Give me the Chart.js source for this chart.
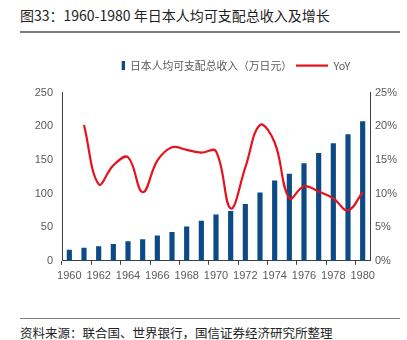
<!DOCTYPE html>
<html>
<head>
<meta charset="utf-8">
<script src="https://cdn.jsdelivr.net/npm/chart.js@4/dist/chart.umd.min.js"></script>
<style>
  body { margin: 0; background: #fff; width: 407px; height: 340px; position: relative; overflow: hidden; }
  #title { position: absolute; left: 20px; top: 5px; font: 14px "Noto Sans CJK SC", sans-serif; color: #222; white-space: nowrap; }
  #titleLine { position: absolute; left: 20px; top: 31px; width: 380px; height: 2px; background: #7f7f7f; }
  #footLine { position: absolute; left: 20px; top: 318px; width: 380px; height: 1px; background: #7f7f7f; }
  #foot { position: absolute; left: 20px; top: 323px; font: 12.5px "Noto Sans CJK SC", sans-serif; color: #222; white-space: nowrap; }
  #wrap { position: absolute; left: 0; top: 47px; width: 407px; height: 241px; }
</style>
</head>
<body>
<div id="title">图33：1960-1980 年日本人均可支配总收入及增长</div>
<div id="titleLine"></div>
<div id="wrap"><canvas id="chart"></canvas></div>
<div id="footLine"></div>
<div id="foot">资料来源：联合国、世界银行，国信证券经济研究所整理</div>
<script>
const years = ['1960', '1961', '1962', '1963', '1964', '1965', '1966', '1967', '1968', '1969', '1970',
    '1971', '1972', '1973', '1974', '1975', '1976', '1977', '1978', '1979', '1980'];
// 日本人均可支配总收入（万日元）
const income = [16, 19, 21, 24.5, 28.5, 31.5, 37, 42.5, 50.5, 59, 68.5,
    73.5, 84, 101, 119, 129, 144.5, 160, 174.5, 188, 207];
// YoY (%)
const yoy = [null, 20.2, 11.4, 14.2, 15.4, 10.2, 14.9, 16.9, 16.5, 16.1, 16.3,
    7.8, 13.9, 20.2, 17.6, 9.3, 11.1, 10.3, 9.3, 7.5, 10.2];
const leftTicks = [0, 50, 100, 150, 200, 250];
const rightTicks = [0, 5, 10, 15, 20, 25];

const blue = '#0b4a84';
const red = '#e5131d';
const axisColor = '#404040';
const tickColor = '#595959';

// legend symbols (same canvas width so the text gaps match the original)
const iconW = 32;
const barIcon = document.createElement('canvas');
barIcon.width = iconW; barIcon.height = 9;
let c = barIcon.getContext('2d');
c.fillStyle = blue; c.fillRect(iconW - 3, 0, 3, 9);

const lineIcon = document.createElement('canvas');
lineIcon.width = iconW; lineIcon.height = 3;
c = lineIcon.getContext('2d');
c.fillStyle = red; c.fillRect(0, 0.5, iconW, 2.2);

// extra space under the legend, and move it sideways like the original
const legendTweak = {
    id: 'legendTweak',
    beforeInit(chart) {
        const fit = chart.legend.fit;
        chart.legend.fit = function () {
            fit.bind(chart.legend)();
            this.height += 12;
        };
    },
    afterLayout(chart) {
        chart.legend.left += 2;
        chart.legend.right += 2;
    }
};

const ctx = document.getElementById('chart').getContext('2d');
new Chart(ctx, {
    data: {
        labels: years,
        datasets: [
            {
                type: 'line',
                label: 'YoY',
                data: yoy,
                yAxisID: 'y1',
                borderColor: red,
                backgroundColor: red,
                borderWidth: 2.2,
                tension: 0.4,
                pointRadius: 0,
                pointStyle: lineIcon,
                order: 0
            },
            {
                type: 'bar',
                label: '日本人均可支配总收入（万日元）',
                data: income,
                yAxisID: 'y',
                backgroundColor: blue,
                barThickness: 4.5,
                pointStyle: barIcon,
                order: 1
            }
        ]
    },
    options: {
        responsive: true,
        maintainAspectRatio: false,
        animation: false,
        layout: { padding: { left: 32, right: 0, top: 9, bottom: 0 } },
        plugins: {
            legend: {
                reverse: true,
                labels: {
                    usePointStyle: true,
                    pointStyleWidth: iconW,
                    boxHeight: 9,
                    padding: 4,
                    color: tickColor,
                    font: { family: '"Noto Sans CJK SC", sans-serif', size: 10.8 }
                }
            },
            tooltip: { enabled: false }
        },
        scales: {
            x: {
                offset: true,
                grid: {
                    offset: true,
                    drawOnChartArea: false,
                    tickLength: 4,
                    color: (g) => (g.index % 2 === 0 ? axisColor : 'rgba(0,0,0,0)')
                },
                border: { color: axisColor, width: 1 },
                ticks: {
                    autoSkip: false,
                    maxRotation: 0,
                    padding: 5,
                    color: tickColor,
                    font: { family: '"Liberation Sans", sans-serif', size: 11 },
                    callback: (v, i) => (i % 2 === 0 ? years[i] : '')
                }
            },
            y: {
                position: 'left',
                min: leftTicks[0],
                max: leftTicks[leftTicks.length - 1],
                afterBuildTicks: (s) => { s.ticks = leftTicks.map(v => ({ value: v })); },
                afterFit: (s) => { s.width = 30; },
                grid: { drawOnChartArea: false, drawTicks: false },
                border: { color: axisColor, width: 1 },
                ticks: {
                    padding: 9,
                    color: tickColor,
                    font: { family: '"Liberation Sans", sans-serif', size: 11 }
                }
            },
            y1: {
                position: 'right',
                min: rightTicks[0],
                max: rightTicks[rightTicks.length - 1],
                afterBuildTicks: (s) => { s.ticks = rightTicks.map(v => ({ value: v })); },
                afterFit: (s) => { s.width = 37; },
                grid: { drawOnChartArea: false, drawTicks: false },
                border: { color: axisColor, width: 1 },
                ticks: {
                    padding: 5,
                    color: tickColor,
                    font: { family: '"Liberation Sans", sans-serif', size: 11 },
                    callback: (v) => v + '%'
                }
            }
        }
    },
    plugins: [legendTweak]
});
</script>
</body>
</html>
